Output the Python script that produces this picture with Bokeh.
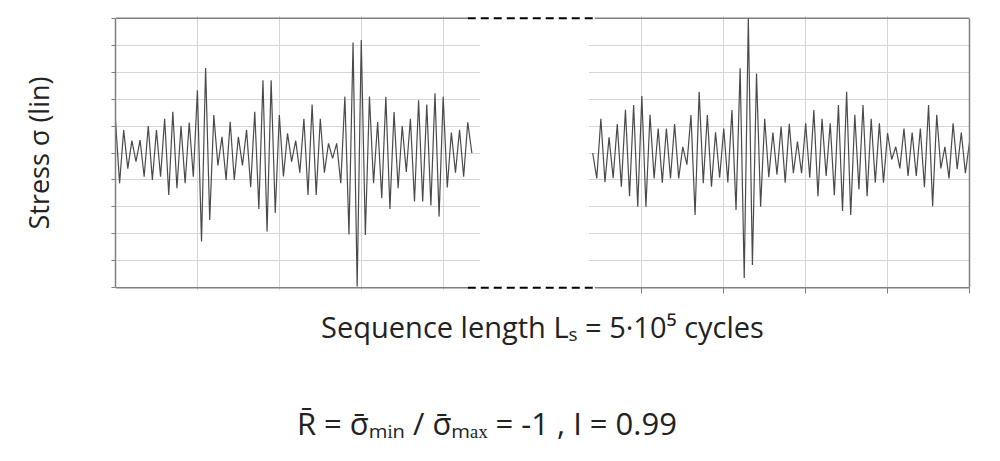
import numpy as np
from bokeh.plotting import figure
from bokeh.layouts import column
from bokeh.models import FixedTicker, Range1d, LinearAxis
from bokeh.core.properties import value
from bokeh.embed import file_html
from bokeh.resources import INLINE

# ---- data: successive load reversals (peak / valley values, grid units) ----
left_reversals = [1.2, -1.12, 0.85, -0.58, 0.46, -0.32, 0.48, -0.88, 1.0, -1.0,
                  0.85, -0.88, 1.27, -1.56, 1.53, -1.31, 1.0, -1.12, 1.13, -0.88,
                  2.33, -3.28, 3.15, -2.48, 1.41, -0.46, 0.6, -1.0, 1.16, -1.0,
                  0.6, -0.46, 0.86, -1.27, 1.53, -2.08, 2.7, -2.91, 2.7, -2.22,
                  1.41, -0.87, 0.73, -0.32, 0.46, -0.73, 1.27, -1.56, 1.8, -1.56,
                  1.27, -0.73, 0.36, -0.2, 0.36, -1.12, 2.09, -3.02, 4.1, -4.95,
                  4.19, -3.04, 2.09, -1.12, 1.15, -1.68, 2.09, -2.08, 1.52, -1.31,
                  1.0, -0.7, 1.27, -1.8, 1.96, -1.8, 1.8, -1.95, 2.22, -2.36,
                  2.09, -1.28, 0.76, -0.73, 0.86, -0.88, 1.14, 0.0]

right_reversals = [0.0, -0.94, 1.27, -1.08, 0.58, -0.93, 1.07, -1.25, 1.6, -1.6,
                   1.78, -1.99, 2.11, -1.99, 1.42, -0.94, 0.91, -1.1, 0.91, -0.94,
                   1.07, -0.94, 0.23, -0.43, 1.41, -2.3, 2.27, -1.12, 1.41, -1.25,
                   0.77, -0.92, 0.91, -1.09, 1.59, -2.11, 3.14, -4.64, 4.99, -4.15,
                   2.95, -1.99, 1.27, -0.9, 0.76, -0.8, 0.98, -1.1, 1.08, -0.75,
                   0.42, -0.75, 1.1, -0.92, 1.59, -1.6, 1.27, -0.85, 1.1, -1.57,
                   1.78, -2.15, 2.27, -2.3, 1.42, -1.35, 1.78, -1.6, 1.27, -1.1,
                   1.1, -1.1, 0.74, -0.24, 0.23, -0.57, 0.91, -0.85, 0.76, -0.85,
                   0.91, -1.27, 1.78, -1.97, 1.42, -0.57, 0.23, -0.94, 1.1, -0.6,
                   0.76, -0.75, 0.4]

y_ticks = [-5, -4, -3, -2, -1, 0, 1, 2, 3, 4, 5]
left_grid_x = [20, 40, 60, 80]
right_grid_x = [128.5, 148.5, 168.5, 188.5, 208.5]

x_label = "Sequence length L\u209b = 5\u00b710\u2075 cycles"
y_label = "Stress \u03c3 (lin)"
formula = "R\u0304 = \u03c3\u0304\u2098\u1d62\u2099 / \u03c3\u0304\u2098\u2090\u2093 = -1 , I = 0.99"

# ---- layout parameters ----
RIGHT_OFFSET = 116.5       # reversal index where the second excerpt starts
X_MAX = 208.5
Y_LIM = 5.0
Y_PAD = 0.1
GAP = (89.0, 115.6)        # blank region between the two excerpts
DASH = (86.0, 117.0)       # dashed connectors
FONT = "Open Sans"
TEXT_COLOR = "#222222"
FRAME_COLOR = "#7f7f7f"
W = 984
H_MAIN = 370
H_NOTE = 75

p = figure(width=W, height=H_MAIN,
           x_range=Range1d(0, X_MAX), y_range=Range1d(-Y_LIM - Y_PAD, Y_LIM + Y_PAD),
           output_backend="svg", toolbar_location=None,
           min_border_left=115, min_border_right=15,
           min_border_top=15, min_border_bottom=80)
p.outline_line_color = None
p.background_fill_color = "white"
p.border_fill_color = "white"

# grid
p.xgrid.ticker = FixedTicker(ticks=left_grid_x + right_grid_x[:-1])
p.ygrid.ticker = FixedTicker(ticks=y_ticks[1:-1])
p.xgrid.grid_line_color = "#d6d6d6"
p.ygrid.grid_line_color = "#d6d6d6"

# x axis (bottom)
xa = p.xaxis[0]
xa.ticker = FixedTicker(ticks=right_grid_x)
xa.axis_line_color = None
xa.major_tick_in = 3
xa.major_tick_out = 3
xa.major_tick_line_color = FRAME_COLOR
xa.minor_tick_line_color = None
xa.major_label_overrides = {t: "" for t in right_grid_x}
xa.major_label_text_font_size = "1px"
xa.axis_label = x_label
xa.axis_label_text_font = FONT
xa.axis_label_text_font_size = "29px"
xa.axis_label_text_font_style = "normal"
xa.axis_label_text_color = TEXT_COLOR
xa.axis_label_standoff = 13

# y axis (left) doubles as left border
ya = p.yaxis[0]
ya.ticker = FixedTicker(ticks=y_ticks)
ya.bounds = (-Y_LIM, Y_LIM)
ya.axis_line_color = FRAME_COLOR
ya.axis_line_width = 1.5
ya.major_tick_in = 0
ya.major_tick_out = 4
ya.major_tick_line_color = FRAME_COLOR
ya.minor_tick_line_color = None
ya.major_label_overrides = {t: "" for t in y_ticks}
ya.major_label_text_font_size = "1px"
ya.axis_label = y_label
ya.axis_label_text_font = FONT
ya.axis_label_text_font_size = "27px"
ya.axis_label_text_font_style = "normal"
ya.axis_label_text_color = TEXT_COLOR
ya.axis_label_standoff = 55

# right border
ra = LinearAxis(ticker=FixedTicker(ticks=[]), bounds=(-Y_LIM, Y_LIM),
                axis_line_color=FRAME_COLOR, axis_line_width=1.5,
                major_tick_line_color=None, minor_tick_line_color=None,
                major_label_text_font_size="1px")
p.add_layout(ra, "right")

# blank gap covering the grid
p.quad(left=[GAP[0]], right=[GAP[1]], bottom=[-Y_LIM - Y_PAD], top=[Y_LIM + Y_PAD],
       fill_color="white", line_color=None)

# top / bottom borders, broken at the gap
p.segment(x0=[0, DASH[1], 0, DASH[1]], x1=[DASH[0], X_MAX, DASH[0], X_MAX],
          y0=[Y_LIM, Y_LIM, -Y_LIM, -Y_LIM], y1=[Y_LIM, Y_LIM, -Y_LIM, -Y_LIM],
          line_color=FRAME_COLOR, line_width=1.5)
p.segment(x0=[DASH[0], DASH[0]], x1=[DASH[1], DASH[1]],
          y0=[Y_LIM, -Y_LIM], y1=[Y_LIM, -Y_LIM],
          line_color="black", line_width=2, line_dash="8 5")

# the two load-time excerpts
x_left = np.arange(len(left_reversals))
x_right = RIGHT_OFFSET + np.arange(len(right_reversals))
p.line(x_left, left_reversals, line_color="#4a4a4a", line_width=1.2)
p.line(x_right, right_reversals, line_color="#4a4a4a", line_width=1.2)

# formula strip below the chart
note = figure(width=W, height=H_NOTE, x_range=Range1d(0, W), y_range=Range1d(0, H_NOTE),
              output_backend="svg", toolbar_location=None,
              min_border=0, x_axis_type=None, y_axis_type=None)
note.outline_line_color = None
note.grid.visible = False
note.text(x=[209], y=[23], text=[formula], text_font=value(FONT),
          text_font_size="31px", text_baseline="middle", text_align="left",
          text_color=TEXT_COLOR)

layout = column(p, note, spacing=0)
open("out.html", "w").write(file_html(layout, INLINE))
